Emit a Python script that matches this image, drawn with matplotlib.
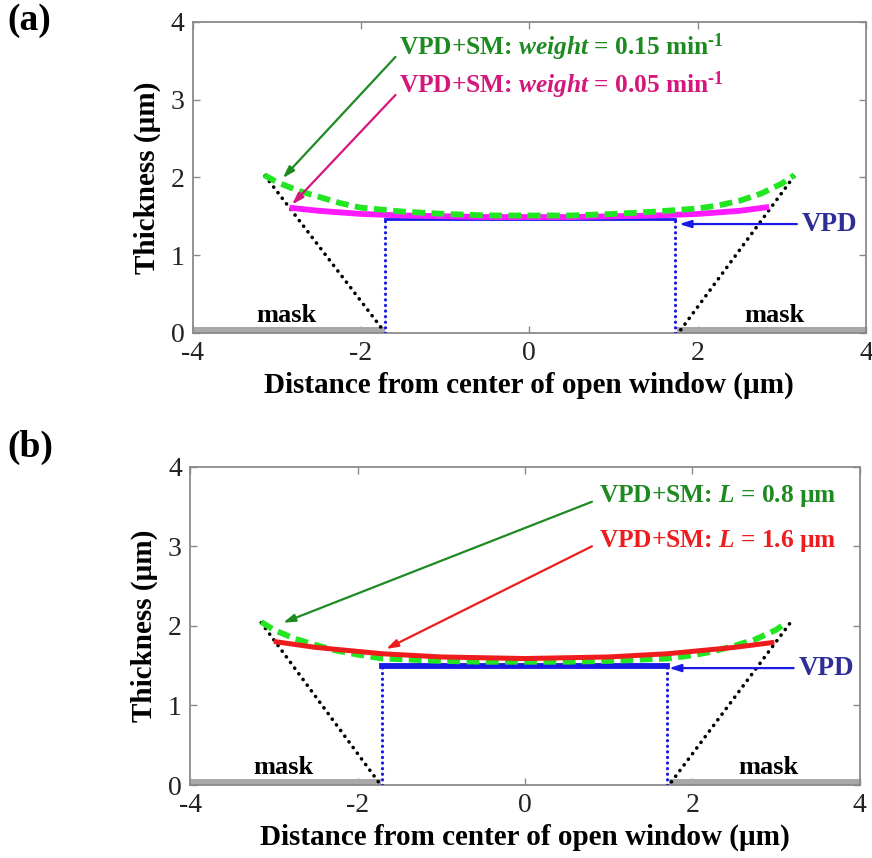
import numpy as np
import matplotlib
matplotlib.use("Agg")
import matplotlib.pyplot as plt

# --- fonts: Times-like everywhere ---
plt.rcParams['font.family'] = ['Liberation Serif', 'DejaVu Serif']
plt.rcParams['mathtext.fontset'] = 'custom'
plt.rcParams['mathtext.rm'] = 'Liberation Serif:bold'
plt.rcParams['mathtext.bf'] = 'Liberation Serif:bold'
plt.rcParams['mathtext.it'] = 'Liberation Serif:bold:italic'
plt.rcParams['axes.unicode_minus'] = False

# --- data ---
# (a) surface-migration weight
a_green_x = [-3.15, -3.0, -2.75, -2.5, -2.25, -2.0, -1.5, -1.0, -0.5, 0.0,
             0.5, 1.0, 1.5, 2.0, 2.25, 2.5, 2.75, 3.0, 3.15]
a_green_y = [2.03, 1.94, 1.83, 1.75, 1.67, 1.61, 1.56, 1.53, 1.51, 1.51,
             1.51, 1.53, 1.56, 1.60, 1.64, 1.70, 1.79, 1.92, 2.03]
a_mag_x = [-2.85, -2.5, -2.0, -1.5, -1.0, -0.5, 0.0, 0.5, 1.0, 1.5, 2.0, 2.5, 2.85]
a_mag_y = [1.61, 1.57, 1.53, 1.51, 1.50, 1.49, 1.49, 1.49, 1.50, 1.51, 1.53, 1.57, 1.62]
a_vpd_x = [-1.72, 1.73]
a_vpd_y = 1.47
a_mask_left = [-4.0, -1.72]
a_mask_right = [1.75, 4.0]
a_cone_left = ([-3.14, -1.74], [2.02, 0.04])
a_cone_right = ([1.80, 3.15], [0.04, 2.02])

# (b) surface diffusion length
b_green_x = [-3.15, -3.0, -2.75, -2.5, -2.25, -2.0, -1.7, -1.0, -0.5, 0.0,
             0.5, 1.0, 1.7, 2.0, 2.25, 2.5, 2.75, 3.0, 3.12]
b_green_y = [2.05, 1.95, 1.84, 1.76, 1.69, 1.64, 1.59, 1.56, 1.55, 1.55,
             1.55, 1.56, 1.59, 1.63, 1.68, 1.75, 1.83, 1.95, 2.04]
b_red_x = [-2.97, -2.5, -2.0, -1.7, -1.0, -0.5, 0.0, 0.5, 1.0, 1.7, 2.0, 2.5, 2.95]
b_red_y = [1.80, 1.73, 1.68, 1.65, 1.61, 1.60, 1.59, 1.60, 1.61, 1.65, 1.68, 1.73, 1.79]
b_vpd_x = [-1.71, 1.70]
b_vpd_y = 1.49
b_mask_left = [-4.0, -1.72]
b_mask_right = [1.72, 4.0]
b_cone_left = ([-3.15, -1.75], [2.04, 0.04])
b_cone_right = ([1.75, 3.17], [0.04, 2.04])

mask_h = 0.08

LIME = '#22e622'
DKGREEN = '#1e8a22'
MAGENTA = '#ff1aff'
DKMAG = '#d4177c'
RED = '#ee1c1c'
BLUE = '#1a1ae6'
NAVY = '#2e2e96'
GRAY = '#8a8a8a'

fig = plt.figure(figsize=(8.72, 8.58), dpi=100)
ax_a = fig.add_axes([0.221, 0.612, 0.772, 0.3625])
ax_b = fig.add_axes([0.218, 0.085, 0.768, 0.371])


def style_axes(ax):
    ax.set_xlim(-4, 4)
    ax.set_ylim(0, 4)
    ax.set_xticks([-4, -2, 0, 2, 4])
    ax.set_yticks([0, 1, 2, 3, 4])
    for s in ax.spines.values():
        s.set_color(GRAY)
        s.set_linewidth(1.3)
    ax.tick_params(direction='in', length=5, width=1, color=GRAY,
                   top=True, right=True, labelsize=20, pad=6, labelcolor='#222222')
    ax.set_xlabel('Distance from center of open window (µm)', fontsize=21,
                  fontweight='bold', labelpad=4)
    ax.set_ylabel('Thickness (µm)', fontsize=21, fontweight='bold', labelpad=7)


def base_layer(ax, mask_l, mask_r, cone_l, cone_r, vpd_x, vpd_y, vpd_lw):
    ax.fill_between(mask_l, 0, mask_h, color='#a8a8a8', lw=0, zorder=2)
    ax.fill_between(mask_r, 0, mask_h, color='#a8a8a8', lw=0, zorder=2)
    for cx, cy in (cone_l, cone_r):
        ax.plot(cx, cy, color='k', lw=2.6, ls=(0, (0.05, 1.9)),
                dash_capstyle='round', zorder=3)
    for vx in vpd_x:
        ax.plot([vx, vx], [0, vpd_y], color=BLUE, lw=2.3, ls=(0, (0.05, 1.7)),
                dash_capstyle='round', zorder=3)
    ax.plot(vpd_x, [vpd_y, vpd_y], color=BLUE, lw=vpd_lw, zorder=4)
    ax.text(-2.89, 0.08, 'mask', fontsize=19, fontweight='bold',
            ha='center', va='bottom', zorder=5)
    ax.text(2.91, 0.08, 'mask', fontsize=19, fontweight='bold',
            ha='center', va='bottom', zorder=5)


def arrow(ax, text_xy, tip_xy, color):
    ax.annotate('', xy=tip_xy, xytext=text_xy,
                arrowprops=dict(arrowstyle='-|>,head_length=0.7,head_width=0.22',
                                color=color, lw=1.6, shrinkA=0, shrinkB=0),
                zorder=6)


# ---------------- (a) ----------------
style_axes(ax_a)
base_layer(ax_a, a_mask_left, a_mask_right, a_cone_left, a_cone_right,
           a_vpd_x, a_vpd_y, 2.0)
ax_a.plot(a_mag_x, a_mag_y, color=MAGENTA, lw=4.2, solid_capstyle='butt', zorder=5)
ax_a.plot(a_green_x, a_green_y, color=LIME, lw=4.2, ls=(0, (2.2, 1.1)), zorder=5)

ax_a.text(-1.55, 3.68, r'VPD+SM: $\mathit{weight}$ = 0.15 min$^{\text{-1}}$',
          color=DKGREEN, fontsize=18.3, fontweight='bold', ha='left', va='center',
          zorder=6)
ax_a.text(-1.55, 3.19, r'VPD+SM: $\mathit{weight}$ = 0.05 min$^{\text{-1}}$',
          color=DKMAG, fontsize=18.3, fontweight='bold', ha='left', va='center',
          zorder=6)
arrow(ax_a, (-1.59, 3.55), (-2.93, 1.99), DKGREEN)
arrow(ax_a, (-1.59, 3.06), (-2.82, 1.65), DKMAG)
arrow(ax_a, (3.18, 1.40), (1.78, 1.40), BLUE)
ax_a.text(3.24, 1.40, 'VPD', color=NAVY, fontsize=19.5, fontweight='bold',
          ha='left', va='center', zorder=6)

# ---------------- (b) ----------------
style_axes(ax_b)
base_layer(ax_b, b_mask_left, b_mask_right, b_cone_left, b_cone_right,
           b_vpd_x, b_vpd_y, 4.2)
ax_b.plot(b_green_x, b_green_y, color=LIME, lw=4.2, ls=(0, (2.2, 1.1)), zorder=5)
ax_b.plot(b_red_x, b_red_y, color=RED, lw=3.6, zorder=5)

ax_b.text(0.88, 3.63, r'VPD+SM: $L$ = 0.8 µm', color=DKGREEN,
          fontsize=18.3, fontweight='bold', ha='left', va='center', zorder=6)
ax_b.text(0.88, 3.07, r'VPD+SM: $L$ = 1.6 µm', color=RED,
          fontsize=18.3, fontweight='bold', ha='left', va='center', zorder=6)
arrow(ax_b, (0.80, 3.56), (-2.89, 2.04), DKGREEN)
arrow(ax_b, (0.80, 3.00), (-1.66, 1.71), RED)
arrow(ax_b, (3.21, 1.47), (1.72, 1.47), BLUE)
ax_b.text(3.27, 1.47, 'VPD', color=NAVY, fontsize=19.5, fontweight='bold',
          ha='left', va='center', zorder=6)

# panel letters
fig.text(0.008, 0.976, '(a)', fontsize=27, fontweight='bold', ha='left', va='center')
fig.text(0.008, 0.478, '(b)', fontsize=27, fontweight='bold', ha='left', va='center')

fig.savefig('out.png', dpi=100)
